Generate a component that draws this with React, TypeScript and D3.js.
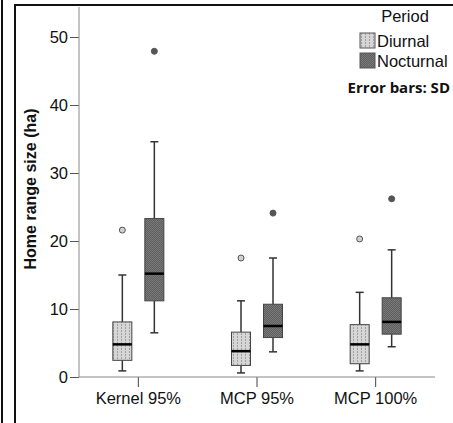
import React, { useEffect, useRef } from 'react';
import * as d3 from 'd3';

// categories and groups
const categories = ['Kernel 95%', 'MCP 95%', 'MCP 100%'];
const periods = ['Diurnal', 'Nocturnal'];

// box stats per category: [lowWhisker, q1, median, q3, highWhisker]
const diurnalStats = [
  [0.9, 2.45, 4.8, 8.1, 15.0],
  [0.6, 1.7, 3.8, 6.6, 11.2],
  [0.9, 1.95, 4.8, 7.7, 12.45],
];
const nocturnalStats = [
  [6.5, 11.2, 15.2, 23.3, 34.6],
  [3.7, 5.8, 7.5, 10.7, 17.5],
  [4.45, 6.3, 8.1, 11.65, 18.7],
];
const diurnalOutliers = [21.6, 17.5, 20.3];
const nocturnalOutliers = [47.9, 24.1, 26.2];
const yTicks = [0, 10, 20, 30, 40, 50];

const W = 453;
const H = 423;

const App = () => {
  const svgRef = useRef<SVGSVGElement>(null);

  useEffect(() => {
    const svg = d3.select(svgRef.current);
    svg.selectAll('*').remove();

    const font = 'Liberation Sans, Arial, sans-serif';

    // patterns
    const defs = svg.append('defs');
    const pd = defs.append('pattern').attr('id', 'pDiurnal')
      .attr('patternUnits', 'userSpaceOnUse').attr('width', 4).attr('height', 3);
    pd.append('rect').attr('width', 4).attr('height', 3).attr('fill', '#d6d6d6');
    pd.append('rect').attr('x', 1).attr('y', 0).attr('width', 1).attr('height', 2).attr('fill', '#a0a0a0');
    const pn = defs.append('pattern').attr('id', 'pNocturnal')
      .attr('patternUnits', 'userSpaceOnUse').attr('width', 2).attr('height', 2);
    pn.append('rect').attr('width', 2).attr('height', 2).attr('fill', '#5e5e5e');
    pn.append('rect').attr('width', 1).attr('height', 1).attr('fill', '#7a7a7a');
    pn.append('rect').attr('x', 1).attr('y', 1).attr('width', 1).attr('height', 1).attr('fill', '#7a7a7a');

    // frame
    svg.append('line').attr('x1', 2).attr('x2', 2).attr('y1', 0).attr('y2', H)
      .attr('stroke', '#111').attr('stroke-width', 2);
    svg.append('path').attr('d', `M15,${H} V5 H${W}`)
      .attr('fill', 'none').attr('stroke', '#111').attr('stroke-width', 2);

    const y = d3.scaleLinear().domain([0, 50]).range([377, 37]);
    const x = d3.scaleBand().domain(categories).range([79, 435]).padding(0);
    const sub = d3.scaleBand().domain(periods).range([-32, 32]).padding(0);

    // y axis
    const gy = svg.append('g').attr('transform', 'translate(79,0)')
      .call(d3.axisLeft(y).tickValues(yTicks).tickSize(9).tickPadding(2));
    gy.select('.domain').remove();
    gy.selectAll('.tick line').attr('stroke', '#555');
    gy.selectAll('.tick text').attr('font-size', 16.5).attr('font-family', font).attr('fill', '#111');
    svg.append('line').attr('x1', 79).attr('x2', 79).attr('y1', 7).attr('y2', 377)
      .attr('stroke', '#888').attr('stroke-width', 1);

    // x axis
    const gx = svg.append('g').attr('transform', 'translate(0,377)')
      .call(d3.axisBottom(x).tickSize(10).tickPadding(5));
    gx.select('.domain').remove();
    gx.selectAll('.tick line').attr('stroke', '#444');
    gx.selectAll('.tick text').attr('font-size', 16.5).attr('font-family', font).attr('fill', '#111');
    svg.append('line').attr('x1', 79).attr('x2', 435).attr('y1', 377).attr('y2', 377)
      .attr('stroke', '#888').attr('stroke-width', 1);

    // y label
    svg.append('text').attr('transform', `translate(36,189) rotate(-90)`)
      .attr('text-anchor', 'middle').attr('font-size', 16).attr('font-weight', 'bold')
      .attr('font-family', font).attr('fill', '#111').text('Home range size (ha)');

    const boxW = 19;
    const capW = 8;
    const drawGroup = (stats: number[][], outliers: number[], period: string, fill: string, outFill: string) => {
      categories.forEach((c, i) => {
        const [lo, q1, med, q3, hi] = stats[i];
        const cx = (x(c) as number) + x.bandwidth() / 2 + (sub(period) as number) + sub.bandwidth() / 2;
        const g = svg.append('g');
        g.append('line').attr('x1', cx).attr('x2', cx).attr('y1', y(hi)).attr('y2', y(q3))
          .attr('stroke', '#333').attr('stroke-width', 1.5);
        g.append('line').attr('x1', cx).attr('x2', cx).attr('y1', y(q1)).attr('y2', y(lo))
          .attr('stroke', '#333').attr('stroke-width', 1.5);
        g.append('line').attr('x1', cx - capW / 2).attr('x2', cx + capW / 2).attr('y1', y(hi)).attr('y2', y(hi))
          .attr('stroke', '#333').attr('stroke-width', 1.5);
        g.append('line').attr('x1', cx - capW / 2).attr('x2', cx + capW / 2).attr('y1', y(lo)).attr('y2', y(lo))
          .attr('stroke', '#333').attr('stroke-width', 1.5);
        g.append('rect').attr('x', cx - boxW / 2).attr('y', y(q3)).attr('width', boxW)
          .attr('height', y(q1) - y(q3)).attr('fill', fill).attr('stroke', '#444').attr('stroke-width', 1);
        g.append('line').attr('x1', cx - boxW / 2).attr('x2', cx + boxW / 2).attr('y1', y(med)).attr('y2', y(med))
          .attr('stroke', '#000').attr('stroke-width', 2.5);
        g.append('circle').attr('cx', cx).attr('cy', y(outliers[i])).attr('r', 3)
          .attr('fill', outFill).attr('stroke', '#555').attr('stroke-width', 1);
      });
    };
    drawGroup(diurnalStats, diurnalOutliers, 'Diurnal', 'url(#pDiurnal)', '#d0d0d0');
    drawGroup(nocturnalStats, nocturnalOutliers, 'Nocturnal', 'url(#pNocturnal)', '#555');

    // legend
    svg.append('text').attr('x', 405).attr('y', 22).attr('text-anchor', 'middle')
      .attr('font-size', 16.5).attr('font-family', font).attr('fill', '#111').text('Period');
    const leg = svg.append('g');
    periods.forEach((p, i) => {
      const ly = 33 + i * 20;
      leg.append('rect').attr('x', 360).attr('y', ly).attr('width', 15).attr('height', 15)
        .attr('fill', i === 0 ? 'url(#pDiurnal)' : 'url(#pNocturnal)').attr('stroke', '#555').attr('stroke-width', 1);
      leg.append('text').attr('x', 377).attr('y', ly + 14).attr('font-size', 16.5)
        .attr('font-family', font).attr('fill', '#111').text(p);
    });
    svg.append('text').attr('x', 450).attr('y', 93).attr('text-anchor', 'end')
      .attr('font-size', 15).attr('font-weight', 'bold').attr('font-family', 'Open Sans, sans-serif')
      .attr('fill', '#111').text('Error bars: SD');
  }, []);

  return (
    <svg ref={svgRef} width={W} height={H}
      style={{ position: 'absolute', left: 0, top: 0, background: '#fff' }} />
  );
};

export default App;
